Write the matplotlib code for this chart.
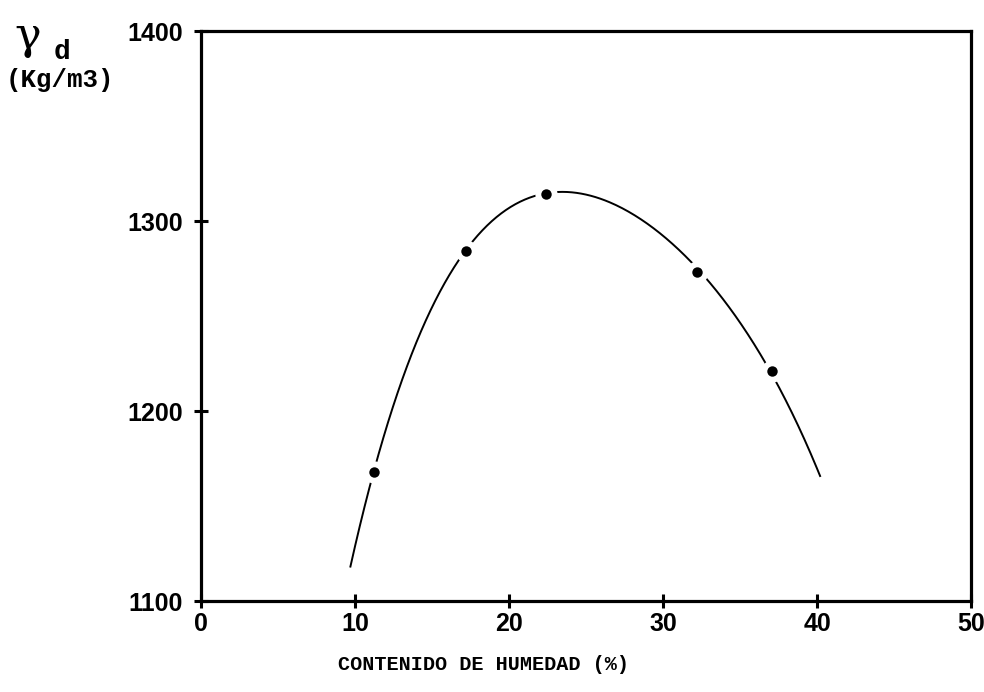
import numpy as np
import matplotlib
matplotlib.use("Agg")
import matplotlib.pyplot as plt

# Compaction test: dry density vs. moisture content
humedad = [11.2, 17.2, 22.4, 32.2, 37.1]          # %
densidad = [1168, 1284, 1314, 1273, 1221]          # Kg/m3

# hand-drawn compaction curve: ends and crest of the traced line
curve_x = [9.7, 11.2, 17.2, 22.4, 24.2, 32.2, 37.1, 40.2]
curve_y = [1118, 1168, 1284, 1314, 1317, 1273, 1221, 1165]

x_ticks = [0, 10, 20, 30, 40, 50]
y_ticks = [1100, 1200, 1300, 1400]

fig = plt.figure(figsize=(9.84, 6.92), dpi=100)
ax = fig.add_axes([0.2043, 0.1315, 0.7825, 0.8237])

# smooth curve through the traced points
coef = np.polyfit(curve_x, curve_y, 4)
xs = np.linspace(curve_x[0], curve_x[-1], 300)
ax.plot(xs, np.polyval(coef, xs), color="black", lw=1.4, zorder=2)

# white halo around each point leaves a small gap in the curve
ax.plot(humedad, densidad, "o", ms=16, color="white", mec="none", zorder=3)
ax.plot(humedad, densidad, "o", ms=7.5, color="black", mec="none", zorder=4)

ax.set_xlim(0, 50)
ax.set_ylim(1100, 1400)
ax.set_xticks(x_ticks)
ax.set_yticks(y_ticks)

tick_font = dict(family="Liberation Sans", weight="bold", size=18)
ax.set_xticklabels([str(v) for v in x_ticks], **tick_font)
ax.set_yticklabels([str(v) for v in y_ticks], **tick_font)
ax.tick_params(direction="inout", length=10, width=2.2, color="black")
ax.tick_params(axis="x", pad=3)
ax.tick_params(axis="y", pad=8)
for sp in ax.spines.values():
    sp.set_linewidth(2.3)

mono = dict(family="Liberation Mono", weight="bold")
fig.text(483 / 984, 1 - 665 / 692, "CONTENIDO DE HUMEDAD (%)",
         ha="center", va="center", size=14.5, **mono)
fig.text(14 / 984, 1 - 36 / 692, "γ", ha="left", va="center",
         size=32, family="DejaVu Serif")
fig.text(54 / 984, 1 - 52 / 692, "d", ha="left", va="center",
         size=20, **mono)
fig.text(60 / 984, 1 - 80 / 692, "(Kg/m3)", ha="center", va="center",
         size=18.5, **mono)

fig.savefig("out.png", dpi=100)
